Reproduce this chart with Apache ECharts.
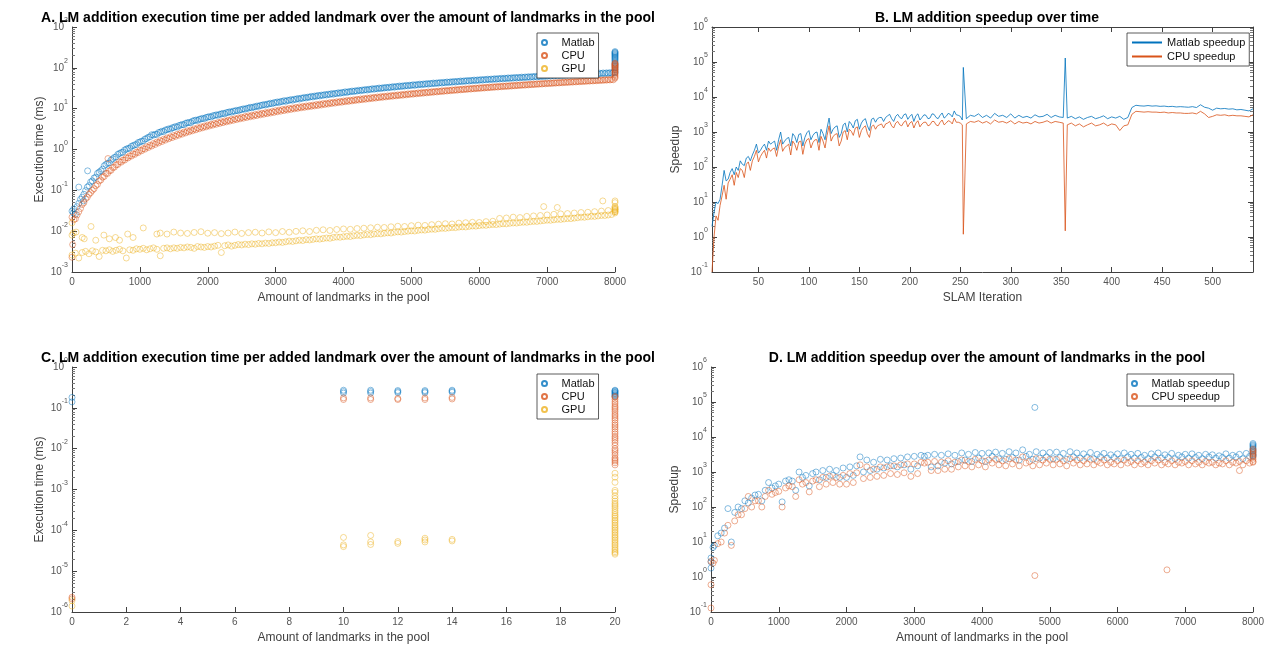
<!DOCTYPE html>
<html><head><meta charset="utf-8">
<script src="https://cdn.jsdelivr.net/npm/echarts@6/dist/echarts.min.js"></script>
<style>html,body{margin:0;padding:0;background:#fff}#c{width:1270px;height:648px}</style>
</head><body><div id="c"></div>
<script>
// ---------- DATA ----------
const poolX = [0,50,100,150,200,250,300,350,400,450,500,550,600,650,700,750,800,850,900,950,1000,1050,1100,1150,1200,1250,1300,1350,1400,1450,1500,1550,1600,1650,1700,1750,1800,1850,1900,1950,2000,2050,2100,2150,2200,2250,2300,2350,2400,2450,2500,2550,2600,2650,2700,2750,2800,2850,2900,2950,3000,3050,3100,3150,3200,3250,3300,3350,3400,3450,3500,3550,3600,3650,3700,3750,3800,3850,3900,3950,4000,4050,4100,4150,4200,4250,4300,4350,4400,4450,4500,4550,4600,4650,4700,4750,4800,4850,4900,4950,5000,5050,5100,5150,5200,5250,5300,5350,5400,5450,5500,5550,5600,5650,5700,5750,5800,5850,5900,5950,6000,6050,6100,6150,6200,6250,6300,6350,6400,6450,6500,6550,6600,6650,6700,6750,6800,6850,6900,6950,7000,7050,7100,7150,7200,7250,7300,7350,7400,7450,7500,7550,7600,7650,7700,7750,7800,7850,7900,7950,8000];
const poolX2 = [25,75,125,175,225,275,325,375,425,475,525,575,625,675,725,775,825,875,925,975,1025,1075,1125,1175,1225,1275,1325,1375,1425,1475,1525,1575,1625,1675,1725,1775,1825,1875,1925,1975,2025,2075,2125,2175,2225,2275,2325,2375,2425,2475,2525,2575,2625,2675,2725,2775,2825,2875,2925,2975,3025,3075,3125,3175,3225,3275,3325,3375,3425,3475,3525,3575,3625,3675,3725,3775,3825,3875,3925,3975,4025,4075,4125,4175,4225,4275,4325,4375,4425,4475,4525,4575,4625,4675,4725,4775,4825,4875,4925,4975,5025,5075,5125,5175,5225,5275,5325,5375,5425,5475,5525,5575,5625,5675,5725,5775,5825,5875,5925,5975,6025,6075,6125,6175,6225,6275,6325,6375,6425,6475,6525,6575,6625,6675,6725,6775,6825,6875,6925,6975,7025,7075,7125,7175,7225,7275,7325,7375,7425,7475,7525,7575,7625,7675,7725,7775,7825,7875,7925,7975];

// Panel A: execution time (ms)
const aMatlab = [0.031,0.026,0.048,0.068,0.098,0.13,0.17,0.21,0.28,0.33,
 0.43,0.47,0.59,0.66,0.8,0.86,1.02,1.08,1.24,1.33,
 1.52,1.62,1.86,2.05,2.25,2.35,2.65,2.75,3.05,3.15,
 3.45,3.55,3.95,4.05,4.5,4.55,5.1,5.15,5.6,5.7,
 6.2,6.25,6.8,6.9,7.4,7.5,8.1,8.2,8.75,8.9,
 9.5,9.7,10.3,10.5,11.1,11.4,12.1,12.3,13.0,13.2,
 14.0,14.2,14.9,15.1,15.9,16.1,16.9,17.2,18.0,18.3,
 19.1,19.4,20.1,20.5,21.2,21.6,22.3,22.6,23.4,23.8,
 24.6,25.0,25.9,26.2,27.0,27.4,28.3,28.6,29.5,29.9,
 30.7,31.1,32.0,32.3,33.2,33.6,34.5,34.8,35.7,36.1,
 37.0,37.3,38.3,38.6,39.6,39.9,40.9,41.2,42.1,42.5,
 43.3,43.7,44.6,44.9,45.8,46.2,47.1,47.4,48.4,48.7,
 49.6,50.0,50.9,51.2,52.1,52.5,53.4,53.7,54.6,55.0,
 55.9,56.2,57.1,57.5,58.4,58.7,59.6,60.0,60.9,61.2,
 62.1,62.5,63.4,63.7,64.6,65.0,65.9,66.2,67.1,67.5,
 68.3,68.7,69.6,69.9,70.8,71.2,72.1,72.4,73.3,73.7,
 75];
const aMatlab2 = [0.035,0.04,0.06,0.08,0.12,0.16,0.2,0.26,0.3,0.4,
 0.46,0.55,0.64,0.76,0.84,0.97,1.06,1.2,1.3,1.48,
 1.6,1.8,2.0,2.3,2.35,2.6,2.8,3.0,3.2,3.4,
 3.65,3.85,4.1,4.4,4.6,4.95,5.25,5.5,5.8,6.1,
 6.4,6.7,7.05,7.3,7.7,8.0,8.4,8.7,9.1,9.4,
 9.9,10.2,10.8,11.0,11.6,12.0,12.6,12.9,13.6,14.0,
 14.6,15.0,15.7,16.0,16.7,17.0,17.8,18.1,18.9,19.2,
 20.0,20.4,21.1,21.5,22.2,22.6,23.4,23.7,24.5,24.9,
 25.8,26.1,27.0,27.4,28.3,28.6,29.5,29.9,30.8,31.1,
 32.0,32.4,33.3,33.6,34.6,34.9,35.9,36.2,37.2,37.5,
 38.5,38.8,39.8,40.1,41.1,41.4,42.4,42.7,43.7,44.0,
 45.0,45.3,46.3,46.6,47.6,47.9,48.9,49.2,50.2,50.5,
 51.5,51.8,52.8,53.1,54.1,54.4,55.4,55.7,56.7,57.0,
 58.0,58.3,59.3,59.6,60.6,60.9,61.9,62.2,63.2,63.5,
 64.5,64.8,65.8,66.1,67.1,67.4,68.4,68.7,69.7,70.0,
 71.0,71.3,72.3,72.6,73.6,73.9,74.9,75.2,76.2,76.5];
const aCPU = [0.022,0.02,0.03,0.045,0.062,0.08,0.1,0.13,0.17,0.21,
 0.26,0.3,0.36,0.42,0.5,0.55,0.63,0.7,0.78,0.86,
 0.96,1.05,1.17,1.27,1.4,1.52,1.65,1.78,1.92,2.05,
 2.2,2.35,2.5,2.68,2.85,3.0,3.2,3.38,3.57,3.75,
 3.95,4.15,4.35,4.55,4.77,5.0,5.2,5.45,5.65,5.9,
 6.15,6.4,6.65,6.9,7.15,7.45,7.7,7.95,8.25,8.5,
 8.9,9.2,9.5,9.8,10.1,10.4,10.7,11.0,11.3,11.6,
 11.9,12.2,12.6,12.9,13.3,13.6,14.0,14.3,14.7,15.0,
 15.4,15.8,16.1,16.5,16.9,17.3,17.7,18.1,18.5,18.9,
 19.3,19.7,20.1,20.5,20.9,21.3,21.7,22.1,22.6,23.0,
 23.4,23.8,24.3,24.7,25.1,25.6,26.0,26.4,26.9,27.3,
 27.8,28.2,28.7,29.1,29.6,30.0,30.5,30.9,31.4,31.8,
 32.3,32.8,33.2,33.7,34.2,34.6,35.1,35.6,36.1,36.5,
 37.0,37.5,38.0,38.5,39.0,39.5,40.0,40.5,41.0,41.5,
 42.0,42.5,43.0,43.5,44.0,44.6,45.1,45.6,46.1,46.7,
 47.2,47.7,48.3,48.8,49.3,49.9,50.4,51.0,51.5,52.1,
 56];
const aCPU2 = [0.019,0.025,0.036,0.05,0.068,0.088,0.11,0.14,0.18,0.22,
 0.26,0.31,0.37,0.43,0.49,0.55,0.62,0.69,0.76,0.84,
 0.93,1.02,1.12,1.22,1.33,1.45,1.57,1.7,1.83,1.96,
 2.1,2.24,2.39,2.55,2.71,2.87,3.04,3.22,3.4,3.58,
 3.77,3.96,4.15,4.35,4.55,4.76,4.97,5.19,5.41,5.63,
 5.86,6.1,6.33,6.57,6.82,7.07,7.32,7.58,7.85,8.1,
 8.4,8.7,9.0,9.3,9.6,9.9,10.2,10.5,10.8,11.1,
 11.4,11.7,12.0,12.3,12.7,13.0,13.4,13.7,14.1,14.4,
 14.8,15.1,15.5,15.9,16.3,16.6,17.0,17.4,17.8,18.2,
 18.6,19.0,19.4,19.8,20.2,20.6,21.0,21.4,21.8,22.3,
 22.7,23.1,23.5,24.0,24.4,24.8,25.3,25.7,26.2,26.6,
 27.1,27.5,28.0,28.4,28.9,29.3,29.8,30.2,30.7,31.1,
 31.6,32.1,32.5,33.0,33.5,33.9,34.4,34.9,35.3,35.8,
 36.3,36.8,37.3,37.7,38.2,38.7,39.2,39.7,40.2,40.7,
 41.2,41.7,42.2,42.7,43.2,43.7,44.2,44.7,45.2,45.7,
 46.2,46.8,47.3,47.8,48.3,48.9,49.4,49.9,50.5,51.0];
const aGPULow = [0.0026,0.0029,0.0022,0.003,0.0032,0.0028,0.0033,0.0031,0.0024,0.0034,
 0.0033,0.0035,0.0032,0.0034,0.0036,0.0033,0.0022,0.0035,0.0034,0.0037,
 0.0036,0.0038,0.0035,0.0037,0.0039,0.0036,0.0025,0.0038,0.0039,0.0037,
 0.0039,0.0038,0.004,0.0039,0.0041,0.004,0.0038,0.0042,0.0041,0.004,
 0.0042,0.0041,0.0043,0.0045,0.003,0.0044,0.0046,0.0043,0.0045,0.0047,
 0.0046,0.0048,0.0047,0.0049,0.0048,0.005,0.0049,0.0051,0.005,0.0052,
 0.0052,0.0054,0.0053,0.0055,0.0057,0.0056,0.0058,0.006,0.0059,0.0062,
 0.0061,0.0063,0.0065,0.0064,0.0066,0.0068,0.0067,0.007,0.0072,0.0071,
 0.0073,0.0075,0.0074,0.0077,0.0079,0.0078,0.0081,0.0083,0.0082,0.0085,
 0.0087,0.0086,0.0089,0.0091,0.009,0.0094,0.0096,0.0095,0.0098,0.01,
 0.0102,0.0101,0.0105,0.0107,0.0106,0.011,0.0112,0.0111,0.0115,0.0118,
 0.0117,0.012,0.0123,0.0122,0.0126,0.0128,0.0127,0.0131,0.0134,0.0133,
 0.0137,0.014,0.0139,0.0143,0.0146,0.0145,0.0149,0.0152,0.0151,0.0156,
 0.0159,0.0158,0.0163,0.0166,0.0165,0.017,0.0174,0.0173,0.0178,0.0182,
 0.0186,0.0185,0.019,0.0195,0.0194,0.0199,0.0204,0.0203,0.0209,0.0214,
 0.022,0.0219,0.0225,0.0231,0.023,0.0236,0.0243,0.0242,0.0249,0.0256,
 0.03];
const aGPUHighX = [1300,1400,1500,1600,1700,1800,1900,2000,2100,2200,2300,2400,2500,2600,2700,2800,2900,3000,3100,3200,3300,3400,3500,3600,3700,3800,3900,4000,4100,4200,4300,4400,4500,4600,4700,4800,4900,5000,5100,5200,5300,5400,5500,5600,5700,5800,5900,6000,6100,6200,6300,6400,6500,6600,6700,6800,6900,7000,7100,7200,7300,7400,7500,7600,7700,7800,7900,8000];
const aGPUHigh = [0.009,0.0085,0.0095,0.009,0.0088,0.0093,0.0097,0.0089,0.0092,0.0087,
 0.009,0.0095,0.0088,0.0092,0.0094,0.009,0.0096,0.0092,0.0098,0.0094,
 0.0099,0.0102,0.0098,0.0105,0.0108,0.0104,0.011,0.0113,0.0111,0.0116,
 0.0118,0.0121,0.0125,0.0123,0.0128,0.0132,0.013,0.0136,0.014,0.0138,
 0.0144,0.0148,0.0152,0.015,0.0157,0.0161,0.0165,0.0163,0.0171,0.0175,
 0.0205,0.021,0.022,0.0215,0.023,0.0236,0.0242,0.025,0.0258,0.0265,
 0.027,0.0278,0.0286,0.029,0.03,0.031,0.032,0.034];
const aGPUOddX = [0,0,20,60,150,180,280,350,470,550,640,700,820,900,1050,1250,6950,7150,7820,8000];
const aGPUOdd  = [0.016,0.008,0.009,0.0095,0.007,0.0065,0.013,0.006,0.008,0.0065,0.007,0.006,0.0085,0.007,0.012,0.0085,0.04,0.038,0.055,0.055];
const aMatlabOddX = [20,100,170,230];
const aMatlabOdd  = [0.028,0.12,0.055,0.3];
const aCPUOddX = [0,10,530];
const aCPUOdd  = [0.0023,0.0047,0.6];
const aMatlabEnd = [80,90,100,110,120,130,140,150,160,170,180,190,200,210,220,230,240,250];
const aCPUEnd = [60,65,70,75,80,85,90,95,100,105,110,115,120,125,130];
const aGPUEnd = [0.028,0.03,0.032,0.034,0.036,0.038,0.04,0.05];

// Panel B: speedup per SLAM iteration
const bIter = [4,6,8,10,12,14,16,18,20,22,24,26,28,30,32,34,36,38,40,42,44,46,48,50,52,54,56,58,60,62,64,66,68,70,72,74,76,78,80,82,84,86,88,90,92,94,96,98,100,102,104,106,108,110,112,114,116,118,120,122,124,126,128,130,132,134,136,138,140,142,144,146,148,150,152,154,156,158,160,162,164,166,168,170,172,174,176,178,180,182,184,186,188,190,192,194,196,198,200,202,204,206,208,210,212,214,216,218,220,222,224,226,228,230,232,234,236,238,240,242,244,246,248,250,252,253,256,260,264,268,272,276,280,284,288,292,296,300,304,308,312,316,320,324,328,332,336,340,344,348,352,354,356,360,364,368,372,376,380,384,388,392,396,400,404,408,412,416,420,424,428,432,436,440,444,448,452,456,460,464,468,472,476,480,484,488,492,496,500,504,508,512,516,520,524,528,532,536,540];
const bMatlab = [2,5,10,9,12,30,80,40,45,70,90,60,100,80,150,120,110,180,200,150,
 220,300,450,250,300,380,450,300,550,450,500,550,300,600,1000,450,550,650,700,400,
 900,750,500,850,900,400,700,950,1100,600,800,950,1000,500,1200,900,600,1300,2500,900,
 1200,1400,1500,700,900,1600,1800,1000,2000,1700,1300,2100,2300,1200,1800,2200,2400,1500,1100,2300,
 2500,1900,2400,2600,2600,2000,2600,2900,3200,2400,2000,2800,3200,2600,2400,3100,3300,2300,2800,3200,
 2000,2900,3300,2200,2600,3100,3000,2400,2500,3300,3200,2600,2400,3000,3500,2500,2800,3400,3200,2700,
 4000,3100,3000,2800,2200,
 70000,
 2400,3000,2800,3300,2600,3000,2500,3400,2800,3000,2600,3300,2500,3000,2600,2800,2500,3100,2700,2800,3200,2600,3000,2700,2600,
 130000,
 2500,2800,2400,2700,2300,2600,2800,2400,2600,2900,2400,2700,2500,2800,2300,2600,
 5000,5800,5600,5500,5700,5500,5600,5400,5500,5300,5400,5200,5300,5200,5100,5300,5000,6000,5100,4800,4200,4800,4600,4700,4500,4600,4300,4400,4200,4000,4600];
const bCPU = [0.1,1,4,3,8,15,30,12,35,45,60,30,70,50,90,80,50,120,140,80,
 150,200,300,140,200,250,300,180,350,280,330,350,200,380,600,280,360,400,450,220,
 550,450,300,520,550,230,450,600,650,350,500,600,600,300,750,550,350,800,1500,550,
 750,850,900,400,550,1000,1100,600,1200,1050,800,1300,1400,700,1100,1350,1500,900,700,1400,
 1600,1200,1500,1600,1700,1300,1700,1800,2000,1500,1300,1800,2000,1600,1500,1900,2100,1400,1800,2000,
 1300,1800,2100,1400,1700,1900,1900,1500,1600,2000,2000,1600,1500,1900,2200,1600,1800,2100,2000,1700,
 2500,1900,1900,1800,1600,
 1.2,
 1700,2000,1900,2100,1800,2000,1700,2200,1900,2000,1800,2100,1700,2000,1800,1900,1700,2000,1800,1900,2100,1800,2000,1900,1800,
 1.5,
 1600,1800,1500,1700,1400,1600,1800,1500,1600,1800,1500,1700,1600,1100,1500,1600,
 3200,3900,3800,3700,3800,3700,3700,3600,3700,3500,3600,3500,3500,3400,3400,3500,3300,3900,3300,2600,2800,3100,3000,3100,2900,3000,2900,2900,2800,2700,3100];
const bTicks = [50,100,150,200,250,300,350,400,450,500];

// Panel C: execution time for small pools
const cMatlabX = [0,0,10,10,10,11,11,11,12,12,12,13,13,13,14,14,14];
const cMatlab  = [0.14,0.18,0.23,0.25,0.27,0.23,0.25,0.27,0.235,0.25,0.265,0.235,0.25,0.265,0.24,0.255,0.27];
const cCPUX = [0,0,10,10,11,11,12,12,13,13,14,14];
const cCPU  = [2.1e-6,2.3e-6,0.16,0.175,0.16,0.175,0.16,0.17,0.16,0.175,0.165,0.18];
const cGPUX = [0,0,10,10,10,11,11,11,12,12,13,13,13,14,14];
const cGPU  = [1.4e-6,1.9e-6,4e-5,4.4e-5,6.7e-5,4.5e-5,5.2e-5,7.5e-5,4.8e-5,5.3e-5,5.2e-5,5.8e-5,6.4e-5,5.5e-5,6e-5];
const cMatlabEnd = [0.19,0.2,0.21,0.22,0.23,0.24,0.25,0.26,0.27];
const cCPUEnd = [0.004,0.0045,0.005,0.0055,0.006,0.007,0.008,0.009,0.01,0.012,0.014,0.016,0.018,0.02,0.023,0.026,0.03,0.034,0.038,0.043,0.05,0.056,0.063,0.07,0.08,0.09,0.1,0.11,0.125,0.14,0.16,0.18,0.19];
const cGPUEnd = [2.6e-5,2.8e-5,3e-5,3.3e-5,3.6e-5,4e-5,4.4e-5,4.8e-5,5.3e-5,5.8e-5,6.4e-5,7e-5,7.7e-5,8.5e-5,9.3e-5,1.02e-4,1.12e-4,1.23e-4,1.35e-4,1.5e-4,1.65e-4,1.8e-4,2e-4,2.2e-4,2.4e-4,2.7e-4,3e-4,3.4e-4,3.8e-4,4.2e-4,4.6e-4,5.2e-4,6e-4,7e-4,8.5e-4,9.5e-4,1.5e-3,2.0e-3,2.5e-3];

// Panel D: speedup over pool size
const dMatlab = [1.8,8,15,18,25,90,10,70,100,90,
 150,130,180,220,230,150,300,500,350,400,
 450,140,550,600,550,300,1000,700,800,400,
 900,1000,600,1100,700,1200,800,1100,700,1300,
 700,1400,800,1500,2700,1000,2200,1100,1900,1200,
 2300,1300,2200,1500,2400,1400,2500,1600,2700,1200,
 2800,1500,3000,2800,3000,1400,3200,1500,3000,1800,
 3300,1700,3000,2000,3500,2200,3200,2000,3600,2500,
 3400,2000,3500,2800,3700,2400,3400,2300,3800,2600,
 3500,2200,4300,2800,3200,2300,3800,2500,3500,2700,
 3600,2400,3700,2600,3400,2300,3800,2700,3500,2500,
 3300,2600,3600,2400,3200,2700,3400,2500,3100,2600,
 3300,2400,3500,2700,3200,2500,3400,2600,3000,2400,
 3300,2700,3500,2500,3100,2600,3400,2400,3000,2700,
 3200,2500,3300,2600,3000,2400,3200,2700,3100,2500,
 2900,2600,3300,2500,3000,2700,3200,2400,3400,2800,
 3000];
const dCPU = [0.6,3,9,10,18,30,8,40,60,60,
 90,200,100,150,150,100,200,300,230,260,
 280,100,350,400,380,200,600,450,500,270,
 550,600,380,700,450,750,500,700,450,800,
 450,900,500,950,1600,650,1400,700,1200,750,
 1400,800,1400,900,1500,850,1600,950,1700,750,
 1700,900,1900,1800,1900,1100,2000,1100,1900,1200,
 2100,1200,1900,1400,2200,1500,2000,1400,2300,1600,
 2100,1400,2200,1800,2300,1600,2100,1500,2400,1700,
 2200,1500,2700,1800,2000,1500,2400,1600,2200,1800,
 2300,1600,2300,1700,2100,1500,2400,1800,2200,1600,
 2100,1700,2300,1600,2000,1800,2200,1600,1900,1700,
 2100,1600,2200,1800,2000,1600,2100,1700,1900,1600,
 2100,1800,2200,1600,1900,1700,2100,1600,1900,1800,
 2000,1600,2100,1700,1900,1600,2000,1800,1900,1600,
 1800,1700,2100,1600,1900,1800,2000,1600,2100,1800,
 1900];
const dMatlabOddX = [0,0,30,4780];
const dMatlabOdd  = [3.5,2.7,7,70000];
const dCPUOddX = [0,0,30,4780,6730,7800];
const dCPUOdd  = [0.13,2.8,2.5,1.1,1.6,1100];
const dMatlabEnd = [2800,3200,3600,4000,4400,4800,5200,5600,6000,6500];
const dCPUEnd = [2000,2300,2600,2900,3200,3500,3800,4100,4500];

// ---------- CHART ----------
const BLUE = '#0072BD', ORANGE = '#D95319', YELLOW = '#EDB120';
const FONT = '"Liberation Sans", Arial, Helvetica, sans-serif';
const AX = '#404040';
const zip = (xs, ys) => xs.map((x, i) => [x, ys[i]]);
const col = (x, ys) => ys.map(y => [x, y]);

// minor tick positions (2..9 per decade) for the log axes
function minorTicks(minExp, maxExp) {
  const out = [];
  for (let e = minExp; e < maxExp; e++) for (let k = 2; k <= 9; k++) out.push(+(k * Math.pow(10, e)).toPrecision(3));
  return out;
}

function logLabel(v) {
  const e = Math.round(Math.log10(v));
  return '{b|10}{s|' + e + '}';
}
const logRich = {
  b: {fontSize: 10, fontFamily: FONT, color: '#555', lineHeight: 20, verticalAlign: 'middle'},
  s: {fontSize: 7, fontFamily: FONT, color: '#555', lineHeight: 10, verticalAlign: 'top'}
};
function yLog(grid, min, max, name, extra) {
  return Object.assign({
    type: 'log', logBase: 10, gridIndex: grid, min: min, max: max, interval: 1,
    name: name, nameLocation: 'middle', nameGap: 26,
    nameTextStyle: {fontSize: 12, fontFamily: FONT, color: AX},
    axisLine: {show: true, lineStyle: {color: AX, width: 1}},
    axisTick: {show: true, inside: true, length: 5, lineStyle: {color: AX}},
    axisLabel: {formatter: logLabel, rich: logRich, margin: 4},
    splitLine: {show: false}
  }, extra || {});
}
function yMinor(grid, min, max, minExp, maxExp, pos) {
  return {
    type: 'log', logBase: 10, gridIndex: grid, min: min, max: max, interval: 1, position: pos || 'left',
    axisLine: {show: false}, axisLabel: {show: false}, splitLine: {show: false},
    axisTick: {show: true, inside: true, length: 3, lineStyle: {color: '#777'}, customValues: minorTicks(minExp, maxExp)}
  };
}
function xLin(grid, min, max, interval, name, extra) {
  return Object.assign({
    type: 'value', gridIndex: grid, min: min, max: max, interval: interval,
    name: name, nameLocation: 'middle', nameGap: 20,
    nameTextStyle: {fontSize: 12, fontFamily: FONT, color: AX},
    axisLine: {show: true, onZero: false, lineStyle: {color: AX, width: 1}},
    axisTick: {show: true, inside: true, length: 5, lineStyle: {color: AX}},
    axisLabel: {fontSize: 10, fontFamily: FONT, color: '#555', margin: 5, formatter: v => String(v)},
    splitLine: {show: false}
  }, extra || {});
}
function sc(name, color, data, xi, yi) {
  return {
    type: 'scatter', name: name, xAxisIndex: xi, yAxisIndex: yi, data: data,
    symbol: 'circle', symbolSize: 6, clip: false, silent: true,
    itemStyle: {color: 'rgba(0,0,0,0)', borderColor: color, borderWidth: 0.6}
  };
}
function ln(name, color, data, xi, yi) {
  return {
    type: 'line', name: name, xAxisIndex: xi, yAxisIndex: yi, data: data,
    symbol: 'none', showSymbol: false, silent: true,
    lineStyle: {color: color, width: 0.8}, itemStyle: {color: color}
  };
}
const legendText = {
  'A-M': 'Matlab', 'A-C': 'CPU', 'A-G': 'GPU',
  'C-M': 'Matlab', 'C-C': 'CPU', 'C-G': 'GPU',
  'B-M': 'Matlab speedup', 'B-C': 'CPU speedup',
  'D-M': 'Matlab speedup', 'D-C': 'CPU speedup'
};
function legend(left, top, names, icon, iw, ih, gap, extra) {
  const l = {
    left: left, top: top, orient: 'vertical', data: names,
    itemWidth: iw, itemHeight: ih, itemGap: gap, padding: [4, 4, 4, 4],
    backgroundColor: '#fff', borderColor: '#333', borderWidth: 0.8,
    formatter: n => legendText[n],
    textStyle: {fontSize: 11, fontFamily: FONT, color: '#111'},
    selectedMode: false
  };
  if (icon) l.icon = icon;
  return Object.assign(l, extra || {});
}
function title(text, cx, top) {
  return {text: text, left: cx, top: top, textAlign: 'center',
    textStyle: {fontSize: 14, fontWeight: 'bold', fontFamily: FONT, color: '#000'}};
}

const option = {
  animation: false,
  backgroundColor: '#fff',
  title: [
    title('A. LM addition execution time per added landmark over the amount of landmarks in the pool', 343, 6),
    title('B. LM addition speedup over time', 982, 6),
    title('C. LM addition execution time per added landmark over the amount of landmarks in the pool', 343, 346),
    title('D. LM addition speedup over the amount of landmarks in the pool', 982, 346)
  ],
  grid: [
    {left: 72, top: 27, width: 543, height: 245},
    {left: 712, top: 27, width: 541, height: 245},
    {left: 72, top: 367, width: 543, height: 245},
    {left: 711, top: 367, width: 542, height: 245}
  ],
  xAxis: [
    xLin(0, 0, 8000, 1000, 'Amount of landmarks in the pool'),
    xLin(1, 4, 540, null, 'SLAM Iteration', {
      axisLabel: {fontSize: 10, fontFamily: FONT, color: '#555', margin: 5, customValues: bTicks},
      axisTick: {show: true, inside: true, length: 5, lineStyle: {color: AX}, customValues: bTicks}
    }),
    xLin(2, 0, 20, 2, 'Amount of landmarks in the pool'),
    xLin(3, 0, 8000, 1000, 'Amount of landmarks in the pool'),
    xLin(1, 4, 540, null, '', {
      position: 'top',
      axisLabel: {show: false, customValues: bTicks},
      axisTick: {show: true, inside: true, length: 5, lineStyle: {color: AX}, customValues: bTicks}
    })
  ],
  yAxis: [
    yLog(0, 0.001, 1000, 'Execution time (ms)'),
    yLog(1, 0.1, 1000000, 'Speedup', {nameGap: 30}),
    yLog(2, 0.000001, 1, 'Execution time (ms)'),
    yLog(3, 0.1, 1000000, 'Speedup', {nameGap: 30}),
    yLog(1, 0.1, 1000000, '', {position: 'right', axisLabel: {show: false}}),
    yMinor(0, 0.001, 1000, -3, 3),
    yMinor(1, 0.1, 1000000, -1, 6),
    yMinor(2, 0.000001, 1, -6, 0),
    yMinor(3, 0.1, 1000000, -1, 6),
    yMinor(1, 0.1, 1000000, -1, 6, 'right')
  ],
  legend: [
    legend(537, 33, ['A-M', 'A-C', 'A-G'], 'circle', 24, 5, 2),
    legend(1127, 33, ['B-M', 'B-C'], null, 30, 10, 3, {itemStyle: {opacity: 0, borderWidth: 0}}),
    legend(537, 374, ['C-M', 'C-C', 'C-G'], 'circle', 24, 5, 2),
    legend(1127, 374, ['D-M', 'D-C'], 'circle', 24, 5, 2)
  ],
  series: [
    sc('A-M', BLUE, zip(poolX, aMatlab).concat(zip(poolX2, aMatlab2), zip(aMatlabOddX, aMatlabOdd), col(8000, aMatlabEnd)), 0, 0),
    sc('A-C', ORANGE, zip(poolX, aCPU).concat(zip(poolX2, aCPU2), zip(aCPUOddX, aCPUOdd), col(8000, aCPUEnd)), 0, 0),
    sc('A-G', YELLOW, zip(poolX, aGPULow).concat(zip(aGPUHighX, aGPUHigh), zip(aGPUOddX, aGPUOdd), col(8000, aGPUEnd)), 0, 0),
    ln('B-M', BLUE, zip(bIter, bMatlab), 1, 1),
    ln('B-C', ORANGE, zip(bIter, bCPU), 1, 1),
    sc('C-M', BLUE, zip(cMatlabX, cMatlab).concat(col(20, cMatlabEnd)), 2, 2),
    sc('C-C', ORANGE, zip(cCPUX, cCPU).concat(col(20, cCPUEnd)), 2, 2),
    sc('C-G', YELLOW, zip(cGPUX, cGPU).concat(col(20, cGPUEnd)), 2, 2),
    sc('D-M', BLUE, zip(poolX, dMatlab).concat(zip(dMatlabOddX, dMatlabOdd), col(8000, dMatlabEnd)), 3, 3),
    sc('D-C', ORANGE, zip(poolX, dCPU).concat(zip(dCPUOddX, dCPUOdd), col(8000, dCPUEnd)), 3, 3)
  ]
};
const chart = echarts.init(document.getElementById('c'), null, {renderer: 'canvas'});
chart.setOption(option);
</script>
</body></html>
